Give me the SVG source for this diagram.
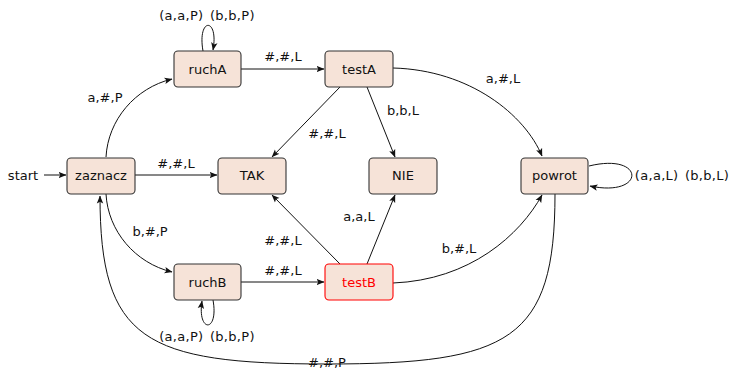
<svg xmlns="http://www.w3.org/2000/svg" width="731" height="371" viewBox="0 0 731 371">
<style>
.node rect{fill:#f6e3d8;stroke:#333;stroke-width:1.1}
.node.red rect{stroke:#f00}
text{font-family:"DejaVu Sans",Verdana,sans-serif;font-size:13px;fill:#111;text-anchor:middle}
.loop{word-spacing:2px;letter-spacing:0.3px}
.node.red text{fill:#f00}
.edge{fill:none;stroke:#111;stroke-width:1;marker-end:url(#arr)}
</style>
<defs>
<marker id="arr" viewBox="0 0 8 8" refX="7.5" refY="4" markerWidth="8" markerHeight="8" markerUnits="userSpaceOnUse" orient="auto">
<path d="M0,0.8 L8,4 L0,7.2 L1.8,4 z" fill="#111"/>
</marker>
</defs>
<rect width="731" height="371" fill="#fff"/>
<g id="connectors">
<path class="edge" d="M44 175 L66 175"/>
<path class="edge" d="M106 157 C108 120 135 88 172 79"/>
<path class="edge" d="M203 51 C197 17 219 17 213 50"/>
<path class="edge" d="M241 69 L324 69"/>
<path class="edge" d="M340 87 L272 157"/>
<path class="edge" d="M367 87 L395 157"/>
<path class="edge" d="M393 68 C470 70 525 115 542 156"/>
<path class="edge" d="M135 175 L217 175"/>
<path class="edge" d="M589 166 C646 152 646 198 590 186"/>
<path class="edge" d="M106 194 C108 231 135 263 172 272"/>
<path class="edge" d="M213 300 C219 333 197 333 202 301"/>
<path class="edge" d="M241 282 L324 282"/>
<path class="edge" d="M340 264 L272 195"/>
<path class="edge" d="M367 264 L395 195"/>
<path class="edge" d="M393 283 C470 280 520 235 542 195"/>
<path class="edge" d="M555 194 C555 340 510 364 327 364 C144 364 100 340 100 196"/>
</g>
<g id="labels">
<text x="23" y="180">start</text>
<text x="105" y="102">a,#,P</text>
<text class="loop" x="207" y="20">(a,a,P) (b,b,P)</text>
<text x="283" y="61">#,#,L</text>
<text x="327" y="138">#,#,L</text>
<text x="403" y="115">b,b,L</text>
<text x="503" y="83">a,#,L</text>
<text x="176" y="168">#,#,L</text>
<text class="loop" x="682" y="180">(a,a,L) (b,b,L)</text>
<text x="150" y="236">b,#,P</text>
<text class="loop" x="207" y="341">(a,a,P) (b,b,P)</text>
<text x="283" y="275">#,#,L</text>
<text x="283" y="245">#,#,L</text>
<text x="359" y="221">a,a,L</text>
<text x="459" y="253">b,#,L</text>
<text x="327" y="367">#,#,P</text>
</g>
<g id="zaznacz" class="node"><rect x="67" y="158" width="68" height="36" rx="4"/><text x="101" y="180">zaznacz</text></g>
<g id="ruchA" class="node"><rect x="174" y="51" width="67" height="36" rx="4"/><text x="207.5" y="73.5">ruchA</text></g>
<g id="testA" class="node"><rect x="325" y="51" width="68" height="36" rx="4"/><text x="359" y="73.5">testA</text></g>
<g id="TAK" class="node"><rect x="218" y="158" width="68" height="36" rx="4"/><text x="252" y="180">TAK</text></g>
<g id="NIE" class="node"><rect x="369" y="158" width="68" height="36" rx="4"/><text x="403" y="180">NIE</text></g>
<g id="powrot" class="node"><rect x="521" y="158" width="67" height="36" rx="4"/><text x="554.5" y="180">powrot</text></g>
<g id="ruchB" class="node"><rect x="174" y="264" width="67" height="36" rx="4"/><text x="207.5" y="286.5">ruchB</text></g>
<g id="testB" class="node red"><rect x="325" y="264" width="68" height="36" rx="4"/><text x="359" y="286.5">testB</text></g>
</svg>
